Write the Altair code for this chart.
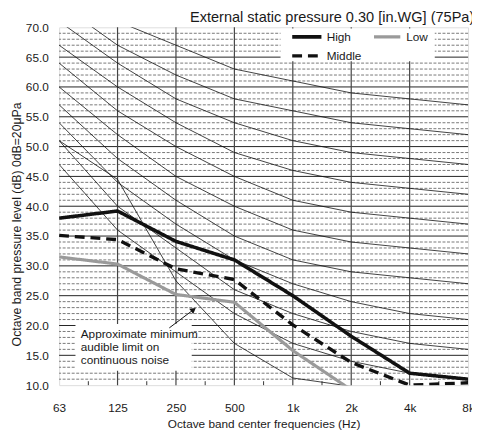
import json
import altair as alt
import pandas as pd

FONT = "Liberation Sans"
INK = "#1a1a1a"

# ---------------- data ----------------
freq_labels = ["63", "125", "250", "500", "1k", "2k", "4k", "8k"]
octave_idx = [0, 1, 2, 3, 4, 5, 6, 7]

series_names = ["High", "Middle", "Low"]
high_db = [38.0, 39.2, 34.1, 31.0, 25.0, 18.2, 12.0, 11.0]
middle_db = [35.1, 34.4, 29.5, 27.7, 20.1, 13.8, 10.0, 10.4]
low_db = [31.5, 30.3, 25.2, 23.9, 15.8, 9.2]

nc_names = ["NC-15", "NC-20", "NC-25", "NC-30", "NC-35",
            "NC-40", "NC-45", "NC-50", "NC-55", "NC-60"]
nc_15 = [47, 36, 29, 22, 17, 14, 12, 11]
nc_20 = [51, 40, 33, 26, 22, 19, 17, 16]
nc_25 = [54, 44, 37, 31, 27, 24, 22, 21]
nc_30 = [57, 48, 41, 35, 31, 29, 28, 27]
nc_35 = [60, 52, 45, 40, 36, 34, 33, 32]
nc_40 = [64, 56, 50, 45, 41, 39, 38, 37]
nc_45 = [67, 60, 54, 49, 46, 44, 43, 42]
nc_50 = [71, 64, 58, 54, 51, 49, 48, 47]
nc_55 = [74, 67, 62, 58, 56, 54, 53, 52]
nc_60 = [77, 71, 67, 63, 61, 59, 58, 57]
nc_curves = [nc_15, nc_20, nc_25, nc_30, nc_35, nc_40, nc_45, nc_50, nc_55, nc_60]

threshold_db = [51.0, 44.5, 27.5, 17.0, 11.2, 9.8]

y_labels = [10, 15, 20, 25, 30, 35, 40, 45, 50, 55, 60, 65, 70]
y_solid_grid = [15, 20, 25, 30, 35, 40, 45, 50, 55, 60, 65]
y_dashed_grid = [v for v in range(11, 70) if v % 5 != 0]
x_grid = [1, 2, 3, 4, 5, 6]
x_minor_ticks = [0.5, 1.5, 2.5, 3.5, 4.5, 5.5, 6.5]

note_lines = ["Approximate minimum", "audible limit on", "continuous noise"]
note_box_x = [0.28, 2.27]
note_box_db = [12.4, 20.25]
note_text_pos = [0.37, 19.45]
arrow_from = [1.886, 19.6]
arrow_to = [2.30, 22.65]

legend_box_x = [3.79, 6.43]
legend_box_db = [64.3, 69.8]
legend_sample_x = [3.99, 3.99, 5.39]
legend_sample_x2 = [4.49, 4.49, 5.84]
legend_sample_db = [68.4, 65.2, 68.4]
legend_label_x = [4.58, 4.58, 5.94]

# ---------------- tables ----------------
rows = []
for name, vals in zip(series_names, [high_db, middle_db, low_db]):
    for i, v in zip(octave_idx, vals):
        rows.append({"series": name, "idx": i, "db": v})
df_series = pd.DataFrame(rows)

rows = []
for name, vals in zip(nc_names, nc_curves):
    for i, v in zip(octave_idx, vals):
        rows.append({"curve": name, "idx": i, "db": v})
df_nc = pd.DataFrame(rows)

df_thr = pd.DataFrame({"idx": octave_idx[:len(threshold_db)], "db": threshold_db})

df_legend = pd.DataFrame({
    "series": series_names, "idx": legend_sample_x, "idx2": legend_sample_x2,
    "db": legend_sample_db, "lx": legend_label_x,
})

W, H = 416, 364

xs = alt.Scale(domain=[0, 7], nice=False, zero=False)
ys = alt.Scale(domain=[10, 70], nice=False, zero=False)
label_expr = json.dumps(freq_labels) + "[datum.value]"
xaxis = alt.Axis(values=octave_idx, labelExpr=label_expr,
                 title="Octave band center frequencies (Hz)",
                 grid=False, ticks=False, domain=False, labelFlush=False,
                 labelPadding=18, labelFontSize=12, labelColor=INK,
                 titleFontSize=12, titleFontWeight="normal", titleColor=INK,
                 titlePadding=5, labelFont=FONT, titleFont=FONT)
yaxis = alt.Axis(values=y_labels, format=".1f",
                 title="Octave band pressure level (dB) 0dB=20μPa",
                 grid=False, ticks=False, domain=False,
                 labelPadding=11, labelFontSize=12, labelColor=INK,
                 titleFontSize=12.5, titleFontWeight="normal", titleColor=INK,
                 titleX=-36, titleY=200, labelFont=FONT, titleFont=FONT)


def X(field="idx"):
    return alt.X(f"{field}:Q", scale=xs, axis=xaxis)


def Y(field="db"):
    return alt.Y(f"{field}:Q", scale=ys, axis=yaxis)


color_scale = alt.Scale(domain=series_names, range=["#111111", "#111111", "#9a9a9a"])
dash_scale = alt.Scale(domain=series_names, range=[[1, 0], [10, 6], [1, 0]])
width_scale = alt.Scale(domain=series_names, range=[3.6, 3.2, 3.6])

grid_dashed = alt.Chart(pd.DataFrame({"db": y_dashed_grid})).mark_rule(
    color="#555555", strokeWidth=0.8, strokeDash=[3, 1.6]).encode(y=Y())
grid_solid = alt.Chart(pd.DataFrame({"db": y_solid_grid})).mark_rule(
    color="#222222", strokeWidth=1).encode(y=Y())
grid_v = alt.Chart(pd.DataFrame({"idx": x_grid})).mark_rule(
    color="#444444", strokeWidth=1.2).encode(x=X())
minor = alt.Chart(pd.DataFrame({"idx": x_minor_ticks})).mark_rule(
    color="#333333", strokeWidth=1).encode(x=X(), y=alt.value(H), y2=alt.value(H - 4))

note_box = alt.Chart(pd.DataFrame({
    "idx": [note_box_x[0]], "idx2": [note_box_x[1]],
    "db": [note_box_db[0]], "db2": [note_box_db[1]]})).mark_rect(
    color="white").encode(x=X(), x2="idx2:Q", y=Y(), y2="db2:Q")
legend_box = alt.Chart(pd.DataFrame({
    "idx": [legend_box_x[0]], "idx2": [legend_box_x[1]],
    "db": [legend_box_db[0]], "db2": [legend_box_db[1]]})).mark_rect(
    color="white").encode(x=X(), x2="idx2:Q", y=Y(), y2="db2:Q")

nc_lines = alt.Chart(df_nc).mark_line(
    color="#111111", strokeWidth=0.8, clip=True).encode(
    x=X(), y=Y(), detail="curve:N")
thr_line = alt.Chart(df_thr).mark_line(
    color="#111111", strokeWidth=0.8, clip=True).encode(x=X(), y=Y())

series_lines = alt.Chart(df_series).mark_line(clip=True, strokeJoin="miter").encode(
    x=X(), y=Y(),
    color=alt.Color("series:N", scale=color_scale, legend=None),
    strokeDash=alt.StrokeDash("series:N", scale=dash_scale, legend=None),
    strokeWidth=alt.StrokeWidth("series:N", scale=width_scale, legend=None),
    detail="series:N",
)

arrow_line = alt.Chart(pd.DataFrame({
    "idx": [arrow_from[0]], "idx2": [arrow_to[0]],
    "db": [arrow_from[1]], "db2": [arrow_to[1]]})).mark_rule(
    color="#111111", strokeWidth=1).encode(x=X(), x2="idx2:Q", y=Y(), y2="db2:Q")
arrow_head = alt.Chart(pd.DataFrame({"idx": [arrow_to[0]], "db": [arrow_to[1]]})).mark_point(
    shape="triangle-up", filled=True, size=45, angle=52.7, color="#111111",
    opacity=1).encode(x=X(), y=Y())
note_text = alt.Chart(pd.DataFrame({"idx": [note_text_pos[0]], "db": [note_text_pos[1]]})).mark_text(
    text=note_lines, align="left", baseline="top", lineHeight=13.5,
    fontSize=12, font=FONT, color=INK).encode(x=X(), y=Y())

legend_samples = alt.Chart(df_legend).mark_rule().encode(
    x=X(), x2="idx2:Q", y=Y(),
    color=alt.Color("series:N", scale=color_scale, legend=None),
    strokeDash=alt.StrokeDash("series:N", scale=dash_scale, legend=None),
    strokeWidth=alt.StrokeWidth("series:N", scale=width_scale, legend=None),
)
legend_labels = alt.Chart(df_legend).mark_text(
    align="left", baseline="middle", fontSize=12, font=FONT, color=INK).encode(
    x=alt.X("lx:Q", scale=xs, axis=xaxis), y=Y(), text="series:N")

chart = alt.layer(
    grid_dashed, grid_solid, grid_v, minor, note_box, legend_box,
    nc_lines, thr_line, series_lines, arrow_line, arrow_head, note_text,
    legend_samples, legend_labels,
).properties(
    width=W, height=H,
    title=alt.Title("External static pressure 0.30 [in.WG] (75Pa)", anchor="end",
                    fontSize=14.8, fontWeight="normal", font=FONT, color=INK,
                    offset=4, dy=7),
    autosize=alt.AutoSizeParams(type="none"),
    padding={"left": 52, "top": 16, "right": 4, "bottom": 43},
).configure_view(
    stroke="#111111", strokeWidth=1.3
).configure(
    font=FONT, background="white"
)

chart.save("out.html", embed_options={"renderer": "svg", "actions": False})
